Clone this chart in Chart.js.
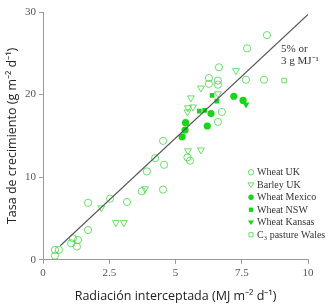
<!DOCTYPE html>
<html>
<head>
<meta charset="utf-8">
<script src="https://cdn.jsdelivr.net/npm/chart.js@4.4.0/dist/chart.umd.min.js"></script>
<style>
  html, body { margin: 0; padding: 0; background: #fff; }
  #wrap { width: 328px; height: 304px; }
</style>
</head>
<body>
<div id="wrap"><canvas id="myChart" width="328" height="304"></canvas></div>
<script>
// data (x: MJ m-2 d-1, y: g m-2 d-1)
const wheatUK = [
  [0.45, 1.2], [0.6, 1.2], [0.45, 0.5], [1.13, 2.6], [1.32, 2.4], [1.06, 2.0],
  [1.28, 1.6], [1.7, 3.6], [1.7, 6.9], [2.53, 7.4], [3.17, 7.0], [3.73, 8.3],
  [3.92, 10.7], [4.23, 12.3], [4.53, 14.4], [4.57, 11.5], [4.53, 8.5], [5.45, 12.4],
  [5.55, 12.0], [6.6, 16.7], [6.75, 17.9], [6.26, 22.0], [6.6, 21.7], [6.26, 21.3],
  [6.6, 21.2], [6.64, 23.3], [7.7, 25.6], [8.45, 27.2], [7.66, 21.8], [8.34, 21.8]
];
const barleyUK = [
  [2.2, 6.3], [2.75, 4.5], [3.05, 4.5], [3.85, 8.6], [5.47, 13.2], [5.96, 13.3],
  [5.45, 17.9], [5.47, 18.4], [5.66, 18.5], [5.58, 19.6], [5.96, 20.8], [6.6, 20.1],
  [7.28, 22.9]
];
const wheatMexico = [
  [5.25, 14.9], [5.36, 15.7], [5.38, 16.6], [6.2, 16.2], [6.34, 17.7], [7.2, 19.8], [7.55, 19.3]
];
const wheatNSW = [[6.38, 19.9], [6.56, 19.2], [5.9, 18.0], [6.1, 18.1]];
const wheatKansas = [[7.66, 18.8]];
const pastureWales = [[9.1, 21.7]];
const fitLine = [[0.65, 1.7], [10, 29.7]];

const xTicks = [0, 2.5, 5, 7.5, 10];
const yTicks = [0, 10, 20, 30];

const green = '#19d419';
const lightGreen = 'rgba(40,205,40,0.75)';

const toXY = arr => arr.map(p => ({ x: p[0], y: p[1] }));

function ds(label, pts, style, filled, radius, rotation) {
  return {
    type: 'scatter',
    label: label,
    data: toXY(pts),
    pointStyle: style,
    pointRadius: radius,
    pointRotation: rotation || 0,
    pointBackgroundColor: filled ? green : 'rgba(0,0,0,0)',
    pointBorderColor: filled ? green : lightGreen,
    pointBorderWidth: filled ? 0 : 0.9,
    showLine: false
  };
}

const datasets = [
  {
    type: 'line',
    label: 'fit',
    data: toXY(fitLine),
    borderColor: '#555',
    borderWidth: 1.1,
    pointRadius: 0,
    fill: false
  },
  ds('Wheat UK', wheatUK, 'circle', false, 3.6),
  ds('Barley UK', barleyUK, 'triangle', false, 4, 180),
  ds('Wheat Mexico', wheatMexico, 'circle', true, 3.6),
  ds('Wheat NSW', wheatNSW, 'rect', true, 3.3),
  ds('Wheat Kansas', wheatKansas, 'triangle', true, 4, 180),
  ds('C\u2083 pasture Wales', pastureWales, 'rect', false, 3.2)
];

// legend + line label drawn on the canvas
const extras = {
  id: 'extras',
  afterDatasetsDraw(chart) {
    const ctx = chart.ctx;
    const xs = chart.scales.x, ys = chart.scales.y;
    ctx.save();
    ctx.fillStyle = '#333';
    ctx.font = '11px "Liberation Serif", serif';
    ctx.textBaseline = 'middle';
    const lx = xs.getPixelForValue(8.98);
    ctx.fillText('5% or', lx, ys.getPixelForValue(25.5));
    ctx.fillText('3 g MJ\u207B\u00B9', lx, ys.getPixelForValue(24.0));

    // legend
    const mx = xs.getPixelForValue(7.85);
    let my = ys.getPixelForValue(10.6);
    chart.data.datasets.forEach(d => {
      if (d.type === 'line') return;
      const r = d.pointRadius - 0.9;
      ctx.fillStyle = d.pointBackgroundColor;
      ctx.strokeStyle = d.pointBorderColor;
      ctx.lineWidth = d.pointBorderWidth;
      ctx.beginPath();
      if (d.pointStyle === 'circle') {
        ctx.arc(mx, my, r, 0, Math.PI * 2);
      } else if (d.pointStyle === 'rect') {
        ctx.rect(mx - r * 0.9, my - r * 0.9, 1.8 * r, 1.8 * r);
      } else {
        ctx.moveTo(mx - r, my - r * 0.6);
        ctx.lineTo(mx + r, my - r * 0.6);
        ctx.lineTo(mx, my + r * 0.9);
        ctx.closePath();
      }
      ctx.fill();
      if (d.pointBorderWidth) ctx.stroke();
      ctx.fillStyle = '#333';
      ctx.font = '10px "Liberation Serif", serif';
      ctx.fillText(d.label, mx + 6, my + 0.5);
      my += 12.5;
    });
    ctx.restore();
  }
};

new Chart(document.getElementById('myChart').getContext('2d'), {
  data: { datasets: datasets },
  options: {
    responsive: false,
    animation: false,
    layout: { padding: { top: 12, right: 20, left: 5, bottom: 0 } },
    plugins: { legend: { display: false }, tooltip: { enabled: false } },
    scales: {
      x: {
        type: 'linear',
        min: 0, max: 10,
        afterBuildTicks: axis => { axis.ticks = xTicks.map(v => ({ value: v })); },
        ticks: {
          color: '#555',
          font: { family: '"Liberation Serif", serif', size: 11 },
          padding: 3,
          maxRotation: 0
        },
        grid: { drawOnChartArea: false, drawTicks: true, tickLength: 4, color: '#999' },
        border: { color: '#999' },
        title: {
          display: true,
          text: 'Radiación interceptada (MJ m\u207B\u00B2 d\u207B\u00B9)',
          color: '#222',
          font: { family: '"Open Sans", sans-serif', size: 12.5 },
          padding: { top: 6, bottom: 0 }
        }
      },
      y: {
        type: 'linear',
        min: 0, max: 30,
        afterBuildTicks: axis => { axis.ticks = yTicks.map(v => ({ value: v })); },
        ticks: {
          color: '#555',
          font: { family: '"Liberation Serif", serif', size: 11 },
          padding: 3
        },
        grid: { drawOnChartArea: false, drawTicks: true, tickLength: 4, color: '#999' },
        border: { color: '#999' },
        title: {
          display: true,
          text: 'Tasa de crecimiento (g m\u207B\u00B2 d\u207B\u00B9)',
          color: '#222',
          font: { family: '"Open Sans", sans-serif', size: 12.5 },
          padding: { top: 0, bottom: 2 }
        }
      }
    }
  },
  plugins: [extras]
});
</script>
</body>
</html>
